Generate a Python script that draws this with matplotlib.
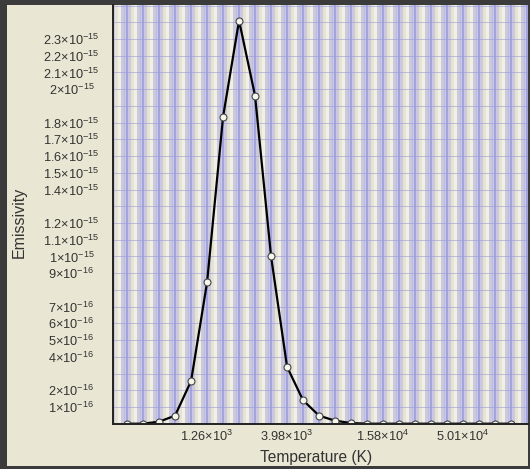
import numpy as np
import matplotlib.pyplot as plt
from matplotlib.patches import Rectangle

plt.rcParams['font.family'] = ['Liberation Sans', 'DejaVu Sans']
plt.rcParams['mathtext.default'] = 'regular'

# Temperatures (K), sampled every 0.1 decade
temperature = [398, 501, 631, 794, 1000, 1259, 1585, 1995, 2512, 3162,
               3981, 5012, 6310, 7943, 10000, 12589, 15849, 19953, 25119,
               31623, 39811, 50119, 63096, 79433, 100000]
# Emissivity in units of 1e-15
emissivity = [0.0, 0.0, 0.012, 0.048, 0.255, 0.845, 1.835, 2.41, 1.96, 1.0,
              0.34, 0.14, 0.048, 0.018, 0.004, 0.0, 0.0, 0.0, 0.0,
              0.0, 0.0, 0.0, 0.0, 0.0, 0.0]

x_ticks = [1259, 3981, 15849, 50119]
x_labels = ['1.26×10$^{3}$', '3.98×10$^{3}$', '1.58×10$^{4}$', '5.01×10$^{4}$']
y_ticks = [2.3, 2.2, 2.1, 2.0, 1.8, 1.7, 1.6, 1.5, 1.4, 1.2, 1.1, 1.0,
           0.9, 0.7, 0.6, 0.5, 0.4, 0.2, 0.1]
y_labels = ['2.3×10$^{-15}$', '2.2×10$^{-15}$', '2.1×10$^{-15}$', '2×10$^{-15}$',
            '1.8×10$^{-15}$', '1.7×10$^{-15}$', '1.6×10$^{-15}$', '1.5×10$^{-15}$',
            '1.4×10$^{-15}$', '1.2×10$^{-15}$', '1.1×10$^{-15}$', '1×10$^{-15}$',
            '9×10$^{-16}$', '7×10$^{-16}$', '6×10$^{-16}$', '5×10$^{-16}$',
            '4×10$^{-16}$', '2×10$^{-16}$', '1×10$^{-16}$']

W, H = 530, 469
fig = plt.figure(figsize=(W / 100, H / 100), dpi=100, facecolor='#3b3b3b')
fig.patches.append(Rectangle((7 / W, 3 / H), 521 / W, 461 / H,
                             transform=fig.transFigure, facecolor='#e9e6d3',
                             edgecolor='none', zorder=-10))

ax = fig.add_axes([113 / W, (H - 423.7) / H, 415 / W, 418.7 / H])
ax.set_facecolor('#e6e3d2')
ax.set_xscale('log')
xmin, xmax = 10 ** 2.512, 10 ** 5.106
ax.set_xlim(xmin, xmax)
ax.set_ylim(0, 2.503e-15)

# striped background
for c in np.arange(2.4, 5.25, 0.1):
    ax.axvspan(10 ** (c - 0.035), 10 ** (c + 0.025), color='#cac9e0', lw=0, zorder=0)
    ax.axvspan(10 ** (c + 0.045), 10 ** (c + 0.06), color='#f2f0e4', lw=0, zorder=0)
    ax.axvspan(10 ** (c + 0.065), 10 ** (c + 0.075), color='#d4d3e4', lw=0, zorder=0)
    ax.axvline(10 ** c, color='#8484dc', lw=1.1, alpha=0.7, zorder=0.5)
    ax.axvline(10 ** (c - 0.02), color='#b0b0e0', lw=0.6, alpha=0.6, zorder=0.5)
for v in np.arange(0.1, 2.55, 0.1):
    ax.axhline(v * 1e-15, color='#9a9ad8', lw=0.7, alpha=0.6, zorder=0.6)

ax.plot(temperature, np.array(emissivity) * 1e-15, color='black', lw=1.6,
        marker='o', markersize=5, markerfacecolor='#f6f6ee',
        markeredgecolor='#444444', markeredgewidth=0.8, zorder=3)

ax.set_xticks(x_ticks)
ax.set_xticklabels(x_labels)
ax.xaxis.set_minor_locator(plt.NullLocator())
ax.set_yticks(np.array(y_ticks) * 1e-15)
ax.set_yticklabels(y_labels)
ax.tick_params(axis='both', length=0, labelsize=9.2, colors='#333333')
ax.tick_params(axis='x', pad=4)
ax.tick_params(axis='y', pad=30)
for lab in ax.get_yticklabels():
    lab.set_horizontalalignment('center')

for s in ['top', 'right']:
    ax.spines[s].set_visible(False)
for s in ['left', 'bottom']:
    ax.spines[s].set_color('#222222')
    ax.spines[s].set_linewidth(1.4)
    ax.spines[s].set_zorder(4)

fig.text(19 / W, 1 - 222 / H, 'Emissivity', rotation=90, ha='center', va='center',
         fontsize=11.5, color='#333333')
fig.text(316 / W, 1 - 457 / H, 'Temperature (K)', ha='center', va='center',
         fontsize=11.2, color='#333333')

fig.savefig('out.png', dpi=100, facecolor=fig.get_facecolor())
